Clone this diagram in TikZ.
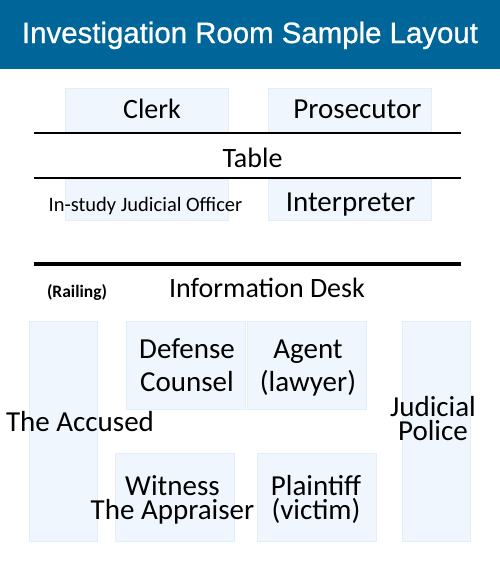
\documentclass[tikz,border=0pt]{standalone}
\usepackage{fontspec}
\setmainfont{Carlito}
\newfontfamily\titlefont[FakeBold=0.8]{Liberation Sans}
\definecolor{headblue}{RGB}{0,102,153}
\definecolor{boxfill}{RGB}{239,246,254}
\definecolor{boxedge}{RGB}{228,238,248}
\begin{document}
\begin{tikzpicture}[x=1pt,y=-1pt,
  roombox/.style={draw=boxedge, line width=0.6pt, fill=boxfill, inner sep=0pt},
  txt/.style={font=\fontsize{29}{30}\selectfont, inner sep=0pt, anchor=base},
  wideline/.style={font=\fontsize{29}{33}\selectfont, inner sep=0pt, align=center, anchor=base},
  tightline/.style={font=\fontsize{29}{24}\selectfont, inner sep=0pt, align=center, anchor=base},
  smalltxt/.style={font=\fontsize{20.5}{22}\selectfont, inner sep=0pt, anchor=base},
  railtxt/.style={font=\bfseries\fontsize{17.5}{19}\selectfont, inner sep=0pt, anchor=base},
  rule/.style={line width=2pt, black},
  thickrule/.style={line width=4pt, black}]
\useasboundingbox (0,0) rectangle (500,570);
\fill[white] (0,0) rectangle (500,570);
% header
\fill[headblue] (0,0) rectangle (500,69);
\node[inner sep=0pt, anchor=base, text=white, font=\titlefont\fontsize{29.4}{32}\selectfont] (title) at (250,43) {Investigation Room Sample Layout};
% boxes
\node[roombox, minimum width=163pt, minimum height=44pt] (clerkbox) at (146.5,110) {};
\node[roombox, minimum width=163pt, minimum height=44pt] (prosbox) at (349.5,110) {};
\node[roombox, minimum width=163pt, minimum height=41pt] (studybox) at (146.5,199.5) {};
\node[roombox, minimum width=163pt, minimum height=41pt] (interbox) at (349.5,199.5) {};
\node[roombox, minimum width=68pt, minimum height=220pt] (accbox) at (63,431) {};
\node[roombox, minimum width=119pt, minimum height=88pt] (defbox) at (185.5,365) {};
\node[roombox, minimum width=119pt, minimum height=88pt] (agentbox) at (306.5,365) {};
\node[roombox, minimum width=68pt, minimum height=220pt] (policebox) at (436,431) {};
\node[roombox, minimum width=119pt, minimum height=88pt] (witbox) at (174.5,497) {};
\node[roombox, minimum width=119pt, minimum height=88pt] (plainbox) at (316.5,497) {};
% rules
\coordinate (r1a) at (34,133); \coordinate (r1b) at (461,133);
\coordinate (r2a) at (34,178); \coordinate (r2b) at (461,178);
\coordinate (r3a) at (34,264); \coordinate (r3b) at (461,264);
\draw[rule] (r1a) -- (r1b);
\draw[rule] (r2a) -- (r2b);
\draw[thickrule] (r3a) -- (r3b);
% texts
\node[txt, font=\fontsize{28}{30}\selectfont] (clerk) at (152,118) {Clerk};
\node[txt] (pros) at (357.5,118) {Prosecutor};
\node[txt, font=\fontsize{28}{30}\selectfont] (table) at (252.5,167) {Table};
\node[smalltxt] (study) at (145.5,211) {In-study Judicial Officer};
\node[txt] (inter) at (350.5,211) {Interpreter};
\node[railtxt] (rail) at (77,297) {(Railing)};
\node[txt, font=\fontsize{28}{30}\selectfont] (desk) at (267,297) {Information Desk};
\node[wideline] (def) at (187,391) {Defense\\Counsel};
\node[wideline] (ag) at (308,391) {Agent\\(lawyer)};
\node[txt] (acc) at (80,431) {The Accused};
\node[tightline] (pol) at (433,440) {Judicial\\Police};
\node[tightline] (wit) at (172.5,519) {Witness\\The Appraiser};
\node[tightline] (pl) at (316,519) {Plaintiff\\(victim)};
\end{tikzpicture}
\end{document}
